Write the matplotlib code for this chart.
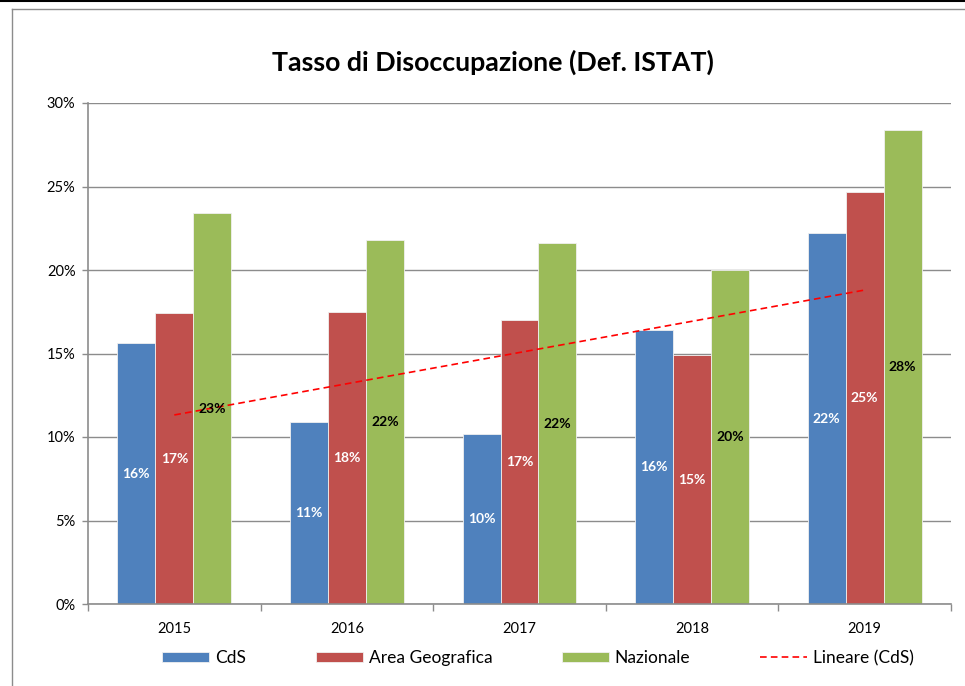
import matplotlib
matplotlib.use('Agg')
import matplotlib.pyplot as plt
import numpy as np
from matplotlib.lines import Line2D
from matplotlib.ticker import FixedLocator, PercentFormatter

plt.rcParams['font.family'] = ['Lato', 'DejaVu Sans']

# Data (percent)
years = ['2015', '2016', '2017', '2018', '2019']
cds = [15.6, 10.9, 10.2, 16.4, 22.2]
area_geografica = [17.4, 17.5, 17.0, 14.9, 24.7]
nazionale = [23.4, 21.8, 21.6, 20.0, 28.4]

series_names = ['CdS', 'Area Geografica', 'Nazionale']
series_colors = ['#4F81BD', '#C0504D', '#9BBB59']
label_colors = ['white', 'white', 'black']

fig = plt.figure(figsize=(9.65, 6.86), dpi=100)
ax = fig.add_axes([88 / 965, (686 - 604) / 686, (951 - 88) / 965, (604 - 103) / 686])

x = np.arange(len(years))
width = 0.22
offsets = [-width, 0, width]
handles = []
for vals, name, color, lcolor, off in zip([cds, area_geografica, nazionale],
                                          series_names, series_colors, label_colors, offsets):
    bars = ax.bar(x + off, vals, width, color=color, edgecolor='#f0f0f0',
                  linewidth=0.6, label=name, zorder=2)
    handles.append(bars)
    for xi, v in zip(x + off, vals):
        ax.text(xi, v / 2, f'{v:.0f}%', ha='center', va='center', color=lcolor,
                fontsize=10, fontweight='bold', zorder=5)

# Linear trend of CdS (Excel "Lineare")
coef = np.polyfit(x, cds, 1)
trend, = ax.plot(x, np.polyval(coef, x), color='red', linestyle=(0, (4, 2.5)),
                 linewidth=1.2, zorder=4, label='Lineare (CdS)')

ax.set_xlim(-0.5, len(years) - 0.5)
ax.set_ylim(0, 30)
ax.set_yticks(np.arange(0, 31, 5))
ax.yaxis.set_major_formatter(PercentFormatter(decimals=0))
ax.yaxis.grid(True, color='#8c8c8c', linewidth=1.0, zorder=0)
ax.set_axisbelow(True)

ax.set_xticks(x)
ax.set_xticklabels(years)
ax.xaxis.set_minor_locator(FixedLocator(np.arange(-0.5, len(years), 1.0)))
ax.tick_params(axis='x', which='major', length=0, pad=13, labelsize=10.5)
ax.tick_params(axis='x', which='minor', length=5, color='#8c8c8c', width=1)
ax.tick_params(axis='y', length=4, color='#8c8c8c', width=1, labelsize=10.5, pad=5)

for side in ['top', 'right']:
    ax.spines[side].set_visible(False)
for side in ['left', 'bottom']:
    ax.spines[side].set_color('#8c8c8c')
    ax.spines[side].set_linewidth(1.2)

fig.text(493 / 965, 1 - 62 / 686, 'Tasso di Disoccupazione (Def. ISTAT)',
         ha='center', va='center', fontsize=19.3, fontweight='bold')

fig.legend(handles + [trend], series_names + ['Lineare (CdS)'], ncol=4,
           loc='center', bbox_to_anchor=(538 / 965, 1 - 658 / 686), frameon=False,
           fontsize=12.5, handlelength=2.7, handleheight=0.57, handletextpad=0.35,
           columnspacing=4.0)

# outer chart frame (cut at right and bottom like the screenshot)
fig.add_artist(Line2D([0, 1], [1 - 0.5 / 686, 1 - 0.5 / 686], color='black', linewidth=1.5))
fig.add_artist(Line2D([12 / 965, 1], [1 - 9 / 686, 1 - 9 / 686], color='#8c8c8c', linewidth=1))
fig.add_artist(Line2D([12 / 965, 12 / 965], [0, 1 - 9 / 686], color='#8c8c8c', linewidth=1))

fig.savefig('out.png', dpi=100)
